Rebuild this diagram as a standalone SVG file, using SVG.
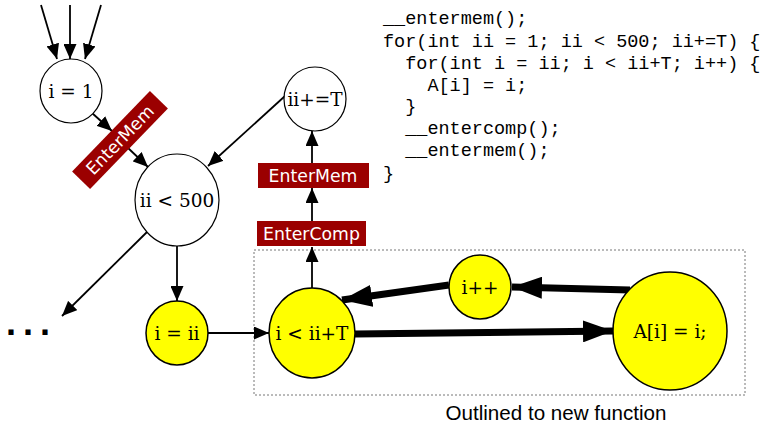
<svg xmlns="http://www.w3.org/2000/svg" width="762" height="430" viewBox="0 0 762 430">
  <style>
    .node { fill: #ffffff; stroke: #000000; stroke-width: 1.2; }
    .hot { fill: #ffff00; stroke: #000000; stroke-width: 1.5; }
    .lbl { font-family: "DejaVu Serif", serif; font-size: 18.5px; fill: #000000; text-anchor: middle; dominant-baseline: central; }
    .tag { fill: #9b0000; }
    .tagtxt { font-family: "DejaVu Sans", sans-serif; font-size: 17.3px; fill: #ffffff; text-anchor: middle; dominant-baseline: central; }
    .edge { stroke: #000000; stroke-width: 1.8; fill: none; }
    .thick { stroke: #000000; stroke-width: 7; fill: none; }
    .code { font-family: "Liberation Mono", monospace; font-size: 18.5px; fill: #000000; white-space: pre; }
  </style>
  <defs>
    <marker id="arr" markerUnits="userSpaceOnUse" markerWidth="16" markerHeight="13" refX="15" refY="6.5" orient="auto">
      <path d="M0,0 L15,6.5 L0,13 z" fill="#000000"/>
    </marker>
    <marker id="bigarr" markerUnits="userSpaceOnUse" markerWidth="31" markerHeight="22" refX="30" refY="11" orient="auto">
      <path d="M0,0 L30,11 L0,22 z" fill="#000000"/>
    </marker>
  </defs>

  <!-- outlined region -->
  <rect x="254" y="250" width="491" height="145" fill="none" stroke="#777777" stroke-width="1" stroke-dasharray="2,2"/>
  <text x="556" y="420" font-family="'Liberation Sans', Arial, sans-serif" font-size="20.6" text-anchor="middle" fill="#000000">Outlined to new function</text>

  <!-- connectors -->
  <g id="edges">
    <path class="edge" d="M41,5 L57,59" marker-end="url(#arr)"/>
    <path class="edge" d="M70,5 L70,59" marker-end="url(#arr)"/>
    <path class="edge" d="M101,5 L85,59" marker-end="url(#arr)"/>
    <path class="edge" d="M92,113 L112,131" marker-end="url(#arr)"/>
    <path class="edge" d="M127,147 L148,167" marker-end="url(#arr)"/>
    <path class="edge" d="M285,96 L208,166" marker-end="url(#arr)"/>
    <path class="edge" d="M147,232 L62,316" marker-end="url(#arr)"/>
    <path class="edge" d="M177,246 L177,301" marker-end="url(#arr)"/>
    <path class="edge" d="M208,333 L269,333" marker-end="url(#arr)"/>
    <path class="edge" d="M312,288 L312,247" marker-end="url(#arr)"/>
    <path class="edge" d="M312,221 L312,188" marker-end="url(#arr)"/>
    <path class="edge" d="M312,163 L312,131" marker-end="url(#arr)"/>
    <path class="thick" d="M355,334 L613,331" marker-end="url(#bigarr)"/>
    <path class="thick" d="M630,290 L512,287" marker-end="url(#bigarr)"/>
    <path class="thick" d="M449,285 L342,300" marker-end="url(#bigarr)"/>
  </g>

  <!-- nodes -->
  <g id="n_i1">
    <ellipse class="node" cx="71" cy="91" rx="31" ry="32"/>
    <text class="lbl" x="71" y="91">i = 1</text>
  </g>
  <g id="n_entermem1" transform="translate(120,140) rotate(-46)">
    <rect class="tag" x="-56" y="-12.5" width="112" height="25"/>
    <text class="tagtxt" x="0" y="0">EnterMem</text>
  </g>
  <g id="n_ii500">
    <ellipse class="node" cx="177" cy="200" rx="42" ry="46"/>
    <text class="lbl" x="177" y="200">ii &lt; 500</text>
  </g>
  <g id="n_iiT">
    <ellipse class="node" cx="315" cy="99" rx="31" ry="32"/>
    <text class="lbl" x="315" y="99">ii+=T</text>
  </g>
  <g id="n_entermem2">
    <rect class="tag" x="258" y="163" width="111" height="25"/>
    <text class="tagtxt" x="313" y="175.5">EnterMem</text>
  </g>
  <g id="n_entercomp">
    <rect class="tag" x="257" y="221" width="109" height="25"/>
    <text class="tagtxt" x="311.5" y="233.5">EnterComp</text>
  </g>
  <g id="n_more">
    <text x="6" y="335" font-family="'Liberation Sans', Arial, sans-serif" font-weight="bold" font-size="36" letter-spacing="7" fill="#000000">...</text>
  </g>
  <g id="n_iii">
    <ellipse class="hot" cx="177" cy="333" rx="31" ry="32"/>
    <text class="lbl" x="177" y="333">i = ii</text>
  </g>
  <g id="n_iT">
    <ellipse class="hot" cx="312" cy="333" rx="43" ry="45"/>
    <text class="lbl" x="312" y="333">i &lt; ii+T</text>
  </g>
  <g id="n_ipp">
    <ellipse class="hot" cx="480" cy="287" rx="31" ry="32"/>
    <text class="lbl" x="480" y="287">i++</text>
  </g>
  <g id="n_body">
    <ellipse class="hot" cx="670" cy="331" rx="57" ry="59" stroke-width="3.5"/>
    <text class="lbl" x="670" y="331">A[i] = i;</text>
  </g>

  <!-- source listing -->
  <g id="code">
    <text class="code" x="383" y="24">__entermem();</text>
    <text class="code" x="383" y="47">for(int ii = 1; ii &lt; 500; ii+=T) {</text>
    <text class="code" x="383" y="69">  for(int i = ii; i &lt; ii+T; i++) {</text>
    <text class="code" x="383" y="91">    A[i] = i;</text>
    <text class="code" x="383" y="112">  }</text>
    <text class="code" x="383" y="134">  __entercomp();</text>
    <text class="code" x="383" y="156">  __entermem();</text>
    <text class="code" x="383" y="179">}</text>
  </g>
</svg>
